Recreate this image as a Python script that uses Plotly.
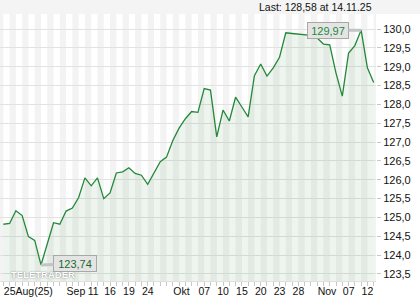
import plotly.graph_objects as go

dates = [
    "2025-08-25", "2025-08-26", "2025-08-27", "2025-08-28", "2025-08-29",
    "2025-09-01", "2025-09-02", "2025-09-03", "2025-09-04", "2025-09-05",
    "2025-09-08", "2025-09-09", "2025-09-10", "2025-09-11", "2025-09-12",
    "2025-09-15", "2025-09-16", "2025-09-17", "2025-09-18", "2025-09-19",
    "2025-09-22", "2025-09-23", "2025-09-24", "2025-09-25", "2025-09-26",
    "2025-09-29", "2025-09-30", "2025-10-01", "2025-10-02", "2025-10-03",
    "2025-10-06", "2025-10-07", "2025-10-08", "2025-10-09", "2025-10-10",
    "2025-10-13", "2025-10-14", "2025-10-15", "2025-10-16", "2025-10-17",
    "2025-10-20", "2025-10-21", "2025-10-22", "2025-10-23", "2025-10-24",
    "2025-10-27", "2025-10-28", "2025-10-29", "2025-10-30", "2025-10-31",
    "2025-11-03", "2025-11-04", "2025-11-05", "2025-11-06", "2025-11-07",
    "2025-11-10", "2025-11-11", "2025-11-12", "2025-11-13", "2025-11-14",
]

prices = [
    124.82, 124.84, 125.18, 125.05, 124.49, 124.39, 123.74, 124.32, 124.86, 124.82,
    125.17, 125.25, 125.53, 126.05, 125.84, 126.05, 125.50, 125.65, 126.18, 126.21,
    126.32, 126.17, 126.12, 125.88, 126.18, 126.48, 126.60, 127.04, 127.37, 127.62,
    127.81, 127.79, 128.42, 128.38, 127.14, 127.85, 127.56, 128.19, 127.93, 127.67,
    128.76, 129.07, 128.75, 128.97, 129.25, 129.90, 129.88, 129.87, 129.85, 129.83,
    129.76, 129.60, 129.58, 128.83, 128.22, 129.36, 129.56, 129.97, 128.97, 128.58,
]

tick_dates = ["2025-08-25", "2025-09-08", "2025-09-11", "2025-09-16", "2025-09-19",
              "2025-09-24", "2025-10-01", "2025-10-07", "2025-10-10", "2025-10-15",
              "2025-10-20", "2025-10-23", "2025-10-28", "2025-11-03", "2025-11-07",
              "2025-11-12"]
tick_labels = ["25Aug(25)", "Sep", "11", "16", "19", "24", "Okt", "07", "10", "15",
               "20", "23", "28", "Nov", "07", "12"]

y_ticks = [123.5, 124.0, 124.5, 125.0, 125.5, 126.0, 126.5, 127.0, 127.5,
           128.0, 128.5, 129.0, 129.5, 130.0]

last_label = "Last: 128,58 at 14.11.25"
hi_label = "129,97"
lo_label = "123,74"
watermark = "TELETRADER"

FONT = "Liberation Sans, Arial, sans-serif"
XFONT = 10.5
X_RANGE = [-0.53, 59.37]
PLOT_W = 376

xs = list(range(len(dates)))
i_hi = prices.index(max(prices))
i_lo = prices.index(min(prices))

# place labels at their dates, nudging right when a label would collide with the previous one
px_per_unit = PLOT_W / (X_RANGE[1] - X_RANGE[0])
tick_pos = []
prev_end = -1e9
for d, lab in zip(tick_dates, tick_labels):
    p = dates.index(d)
    start_px = (p - X_RANGE[0]) * px_per_unit
    if start_px < prev_end + 3.5:
        start_px = prev_end + 3.5
        p = start_px / px_per_unit + X_RANGE[0]
    prev_end = start_px + len(lab) * 0.56 * XFONT
    tick_pos.append(p)

fig = go.Figure()
fig.add_trace(go.Scatter(
    x=xs, y=prices, mode="lines",
    line=dict(color="#23893a", width=1.3),
    fill="tozeroy", fillcolor="rgba(40,120,40,0.08)",
    hoverinfo="skip",
))

shapes = []
# alternating day stripes
for i in range(-1, len(dates)):
    if i % 2 != 0:
        shapes.append(dict(type="rect", xref="x", yref="paper", x0=i, x1=i + 1,
                           y0=0, y1=1, fillcolor="#f3f3f3", line=dict(width=0),
                           layer="below"))
# header band
shapes.append(dict(type="rect", xref="paper", yref="paper", x0=-0.01, x1=1.2,
                   y0=1, y1=1.06, fillcolor="#f4f4f4", line=dict(width=0),
                   layer="below"))

annotations = [
    dict(text="<b>" + watermark + "</b>", xref="paper", yref="paper", x=0.025, y=0.026,
         xanchor="left", yanchor="middle", showarrow=False,
         font=dict(family=FONT, size=9.5, color="rgba(255,255,255,1)",
                   shadow="0px 0px 1.5px #666")),
    dict(text=last_label, xref="paper", yref="paper", x=0.995, y=1.027,
         xanchor="right", yanchor="middle", showarrow=False,
         font=dict(family=FONT, size=10.5, color="#111")),
    dict(text=hi_label, x=i_hi, y=max(prices), xref="x", yref="y",
         showarrow=True, arrowhead=0, arrowwidth=3, arrowcolor="#c4c4c4",
         ax=-33, ay=0, bgcolor="#e4e4e4", bordercolor="#a8a8a8", borderwidth=1,
         borderpad=1, width=38, height=13,
         font=dict(family=FONT, size=11, color="#22883a")),
    dict(text=lo_label, x=i_lo, y=min(prices), xref="x", yref="y",
         showarrow=True, arrowhead=0, arrowwidth=3, arrowcolor="#c4c4c4",
         ax=34, ay=-1, bgcolor="#e4e4e4", bordercolor="#a8a8a8", borderwidth=1,
         borderpad=1, width=40, height=13,
         font=dict(family=FONT, size=11, color="#1a6a30")),
]

fig.update_layout(
    width=420, height=300,
    margin=dict(l=0, r=44, t=14, b=19),
    paper_bgcolor="white", plot_bgcolor="white",
    showlegend=False,
    separators=",.",
    font=dict(family=FONT, size=11, color="#111"),
    shapes=shapes, annotations=annotations,
    xaxis=dict(
        range=X_RANGE, showgrid=False, zeroline=False,
        tickmode="array", tickvals=tick_pos, ticktext=tick_labels,
        tickangle=0, automargin=False,
        ticks="", ticklabelposition="outside right",
        showline=True, linecolor="#e0e0e0",
        minor=dict(dtick=1, tick0=0, ticks="outside", ticklen=4, tickcolor="#c8c8c8"),
        tickfont=dict(family=FONT, size=XFONT, color="#111"),
    ),
    yaxis=dict(
        side="right", range=[123.314, 130.398], tickmode="array", tickvals=y_ticks,
        tickformat=".1f", showgrid=True, gridcolor="#e2e2e2", gridwidth=1,
        zeroline=False, ticks="outside", ticklen=4, tickcolor="#c8c8c8",
        automargin=False,
        tickfont=dict(family=FONT, size=11, color="#111"),
    ),
)

fig.write_html("out.html")
